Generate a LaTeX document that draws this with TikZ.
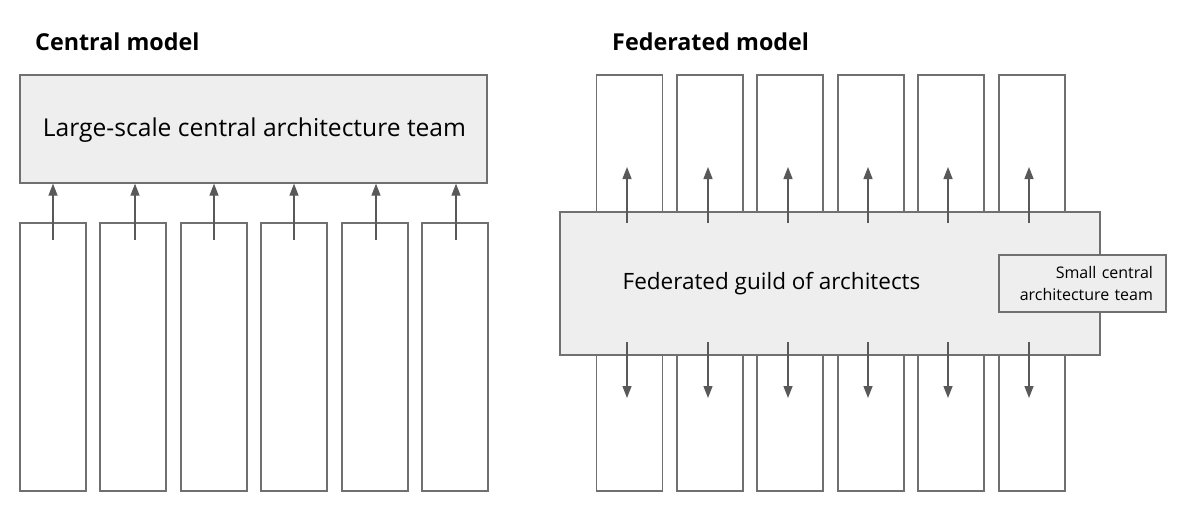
\documentclass[tikz,border=0pt]{standalone}
\usepackage{fontspec}
\setmainfont{Open Sans}
\usetikzlibrary{arrows.meta}
\definecolor{bord}{HTML}{707070}
\definecolor{boxfill}{HTML}{EEEEEE}
\definecolor{arr}{HTML}{595959}
\tikzset{
  box/.style={draw=bord, line width=1.3pt, fill=boxfill, inner sep=0pt},
  col/.style={draw=bord, line width=1.3pt, fill=white, inner sep=0pt},
  conn/.style={draw=arr, line width=1.3pt, -{Triangle[length=12pt,width=9pt]}},
  title/.style={font=\bfseries\fontsize{23.3}{28}\selectfont, anchor=base west, inner sep=0pt},
  lbl/.style={inner sep=0pt}
}
\begin{document}
\begin{tikzpicture}[x=1pt,y=-1pt]
\useasboundingbox (0,0) rectangle (1177,511);
% Central model
\node[title] (t1) at (35,51) {Central model};
\node[box, minimum width=467pt, minimum height=108pt] (big) at (253.5,129) {};
\node[lbl, font=\fontsize{24.6}{29}\selectfont] (bigl) at (254.5,130) {Large-scale central architecture team};
\foreach \i/\x/\a in {1/53/53,2/133/135,3/214/214,4/294/294,5/375/376,6/455/456}{
  \node[col, minimum width=66pt, minimum height=268pt] (c\i) at (\x,357) {};
  \coordinate (s\i) at (\a,240);
  \draw[conn] (s\i) -- (\a,183.6 |- big.south);
}
% Federated model
\node[title] (t2) at (612,51) {Federated model};
\foreach \i/\x in {1/629.5,2/710,3/790,4/871,5/951,6/1032}{
  \node[col, minimum width=66pt, minimum height=416pt] (f\i) at (\x,283) {};
}
\node[box, minimum width=540pt, minimum height=143pt] (guild) at (830,283.5) {};
\node[lbl, font=\fontsize{22.5}{27}\selectfont] (guildl) at (771.5,284) {Federated guild of architects};
\node[box, minimum width=167pt, minimum height=57pt, font=\fontsize{16}{22}\selectfont, align=right, text width=141pt] (small) at (1082.5,283.5) {Small central\\architecture team};
\foreach \i/\a in {1/627,2/708,3/788,4/868,5/948,6/1029}{
  \coordinate (u\i) at (\a,223);
  \coordinate (ut\i) at (\a,167);
  \coordinate (d\i) at (\a,342);
  \coordinate (dt\i) at (\a,398);
  \draw[conn] (u\i) -- (ut\i);
  \draw[conn] (d\i) -- (dt\i);
}
\end{tikzpicture}
\end{document}
